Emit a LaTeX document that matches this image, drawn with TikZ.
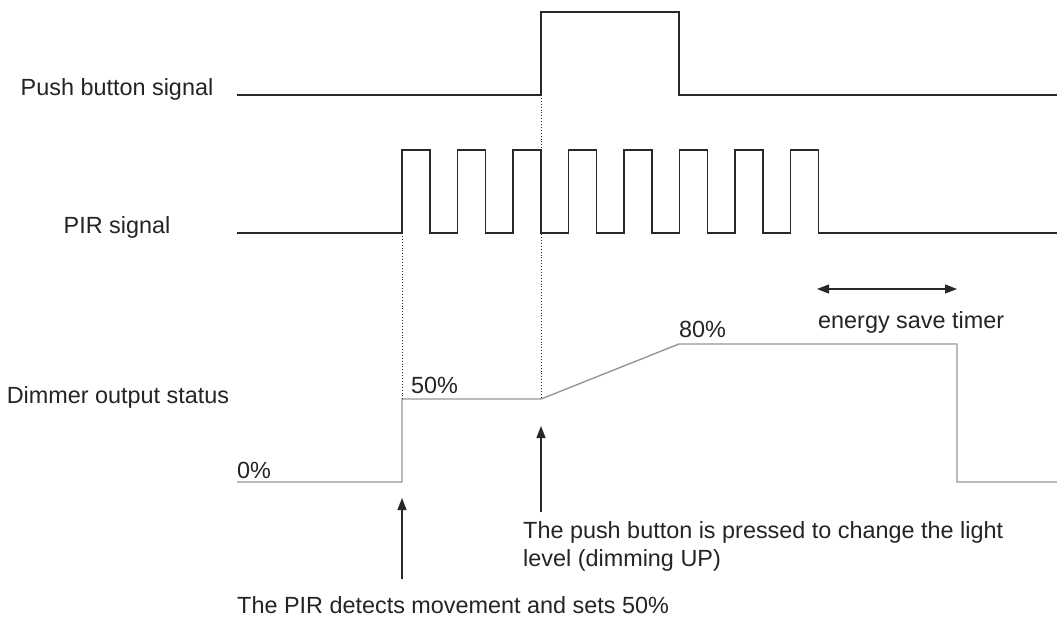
\documentclass[tikz,border=0pt]{standalone}
\usepackage{fontspec}
\setmainfont{Liberation Sans}
\usetikzlibrary{arrows.meta}
\definecolor{txt}{RGB}{35,35,40}
\definecolor{sig}{RGB}{40,40,40}
\definecolor{dim}{RGB}{150,150,150}
\tikzset{
  lbl/.style={inner sep=0pt, font=\fontsize{23.4}{28}\selectfont, text=txt},
  wave/.style={line width=1.4pt, draw=sig},
  dimwave/.style={line width=1.4pt, draw=dim},
  guide/.style={line width=0.9pt, draw=sig, dotted},
  ptr/.style={line width=1.1pt, draw=sig, -{Triangle[length=12pt,width=9pt]}},
  dptr/.style={line width=1.1pt, draw=sig, {Triangle[length=12pt,width=9pt]}-{Triangle[length=12pt,width=9pt]}}
}
\begin{document}
\begin{tikzpicture}[x=1pt,y=-1pt]
\useasboundingbox (0,0) rectangle (1057,619);
% labels
\node[lbl] (lpb) at (117,89) {Push button signal};
\node[lbl] (lpir) at (117,227) {PIR signal};
\node[lbl] (ldim) at (118,397) {Dimmer output status};
\node[lbl, anchor=west] (l0) at (237,470) {0\%};
\node[lbl, anchor=west] (l50) at (411,385) {50\%};
\node[lbl, anchor=west] (l80) at (679,329) {80\%};
\node[lbl, anchor=west] (lest) at (818,322) {energy save timer};
\node[lbl, anchor=north west, align=left] (lpush) at (523,521) {The push button is pressed to change the light\\level (dimming UP)};
\node[lbl, anchor=west] (lpird) at (237,605.5) {The PIR detects movement and sets 50\%};
% push button waveform
\draw[wave] (237,95) -- (541,95) -- (541,12) -- (679,12) -- (679,95) -- (1057,95);
% PIR waveform
\draw[wave] (237,233) -- (402,233)
  \foreach \s in {402,457.5,513,568.5,624,679.5,735,790.5}{ -- (\s,233) -- (\s,150) -- (\s+28,150) -- (\s+28,233) }
  -- (1057,233);
% dimmer waveform
\draw[dimwave] (237,482) -- (402,482) -- (402,399) -- (541,399) -- (679,344) -- (957,344) -- (957,482) -- (1057,482);
% guides
\coordinate (g1a) at (402,233); \coordinate (g1b) at (402,399);
\coordinate (g2a) at (541,95); \coordinate (g2b) at (541,399);
\draw[guide] (g1a) -- (g1b);
\draw[guide] (g2a) -- (g2b);
% pointers
\coordinate (a1s) at (402,579); \coordinate (a1e) at (402,498);
\coordinate (a2s) at (541,512); \coordinate (a2e) at (541,426);
\draw[ptr] (a1s) -- (a1e);
\draw[ptr] (a2s) -- (a2e);
\coordinate (t1) at (817,289); \coordinate (t2) at (957,289);
\draw[dptr] (t1) -- (t2);
\end{tikzpicture}
\end{document}
